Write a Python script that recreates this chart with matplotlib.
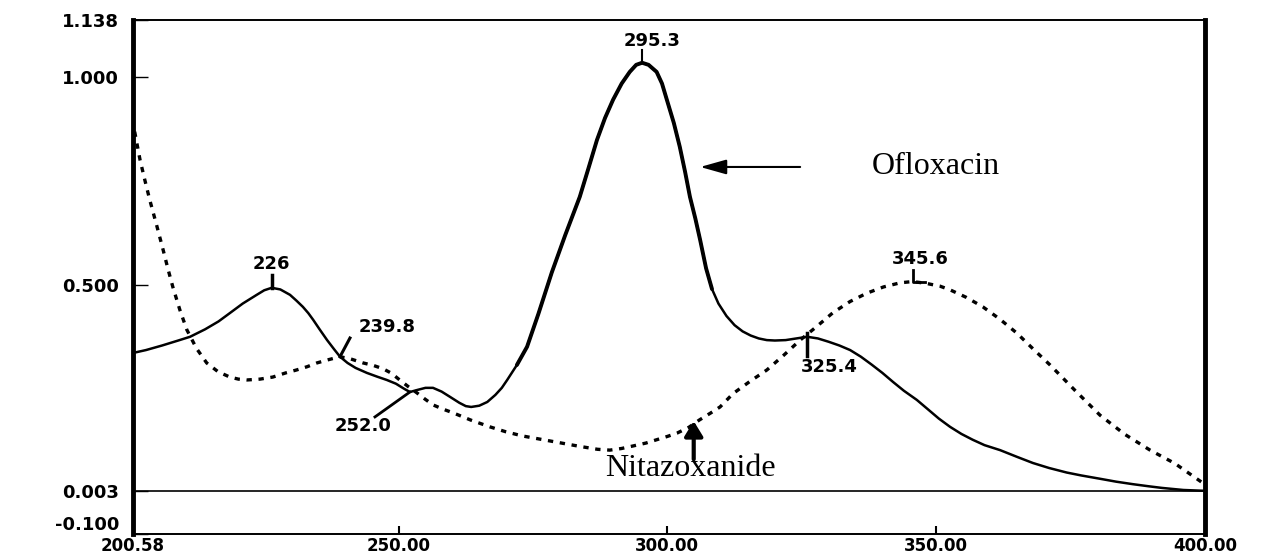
import matplotlib
matplotlib.use("Agg")
import matplotlib.pyplot as plt
import matplotlib.transforms as mtransforms
import numpy as np

# ---- data ----
oflox_x = [200.58, 203.0, 206.0, 209.0, 211.2, 214.0, 216.5, 218.6, 221.0, 223.6, 225.0,
           226.4, 228.0, 229.8, 231.0, 232.2, 233.2, 234.1, 235.3, 236.7, 238.0, 239.1,
           240.5, 242.0, 244.1, 246.0, 247.8, 249.5, 251.0, 252.1, 253.5, 255.0, 256.4,
           258.0, 259.6, 261.3, 262.5, 263.5, 265.0, 266.5, 268.0, 269.2, 270.2, 272.0,
           273.9, 276.0, 278.5, 281.0, 283.7, 285.3, 286.9, 288.4, 289.9, 291.5, 293.0,
           294.2, 295.3, 296.5, 298.0, 299.0, 299.9, 301.2, 302.3, 303.3, 304.2, 305.2,
           306.1, 307.2, 308.3, 309.5, 311.0, 312.5, 314.0, 315.5, 317.0, 318.5, 320.0,
           322.0, 324.0, 326.0, 328.0, 330.0, 332.0, 334.0, 336.0, 338.0, 340.0, 342.0,
           344.0, 346.4, 348.5, 350.5, 352.6, 354.7, 356.8, 359.0, 361.9, 365.0, 368.0,
           371.0, 374.3, 377.0, 380.5, 383.5, 386.6, 389.5, 392.0, 396.0, 400.0]
oflox_y = [0.336, 0.343, 0.354, 0.366, 0.375, 0.393, 0.412, 0.432, 0.455, 0.476, 0.487,
           0.493, 0.489, 0.476, 0.462, 0.447, 0.432, 0.416, 0.393, 0.367, 0.345, 0.327,
           0.312, 0.300, 0.288, 0.279, 0.271, 0.262, 0.250, 0.242, 0.247, 0.252, 0.252,
           0.243, 0.230, 0.216, 0.208, 0.206, 0.209, 0.218, 0.235, 0.252, 0.271, 0.307,
           0.351, 0.430, 0.530, 0.620, 0.712, 0.780, 0.849, 0.902, 0.946, 0.985, 1.013,
           1.030, 1.035, 1.030, 1.013, 0.985, 0.946, 0.890, 0.833, 0.772, 0.712, 0.660,
           0.608, 0.540, 0.490, 0.455, 0.425, 0.403, 0.388, 0.378, 0.371, 0.367, 0.366,
           0.367, 0.371, 0.375, 0.371, 0.363, 0.354, 0.343, 0.327, 0.308, 0.288, 0.266,
           0.245, 0.223, 0.200, 0.178, 0.158, 0.141, 0.127, 0.114, 0.102, 0.086, 0.071,
           0.059, 0.048, 0.041, 0.033, 0.026, 0.020, 0.015, 0.011, 0.006, 0.004]

nitaz_x = [200.9, 201.9, 202.8, 203.7, 205.0, 206.2, 207.1, 208.0, 209.3, 210.6, 212.4,
           214.3, 216.4, 218.6, 220.2, 221.8, 224.2, 226.6, 229.0, 231.0, 233.0, 234.8,
           237.0, 239.1, 241.0, 243.4, 245.3, 247.1, 248.7, 250.2, 251.8, 253.4, 254.9,
           256.4, 258.2, 260.1, 263.5, 267.0, 270.0, 273.1, 278.2, 283.7, 287.0, 289.3,
           291.5, 293.6, 296.0, 298.0, 300.0, 301.8, 304.0, 306.0, 308.0, 309.8, 312.2,
           315.3, 318.5, 321.6, 324.7, 327.8, 330.8, 334.0, 337.1, 340.2, 343.3, 345.6,
           348.0, 350.7, 352.6, 355.6, 358.7, 361.8, 365.0, 368.1, 371.2, 375.9, 380.5,
           385.1, 389.8, 394.4, 399.6]
nitaz_y = [0.869, 0.801, 0.752, 0.705, 0.643, 0.584, 0.538, 0.495, 0.440, 0.392, 0.347,
           0.312, 0.291, 0.278, 0.273, 0.271, 0.273, 0.278, 0.288, 0.295, 0.303, 0.312,
           0.320, 0.327, 0.322, 0.312, 0.306, 0.298, 0.287, 0.271, 0.255, 0.240, 0.225,
           0.211, 0.201, 0.192, 0.174, 0.158, 0.146, 0.136, 0.124, 0.111, 0.104, 0.102,
           0.106, 0.112, 0.119, 0.127, 0.135, 0.143, 0.157, 0.175, 0.191, 0.206, 0.238,
           0.267, 0.295, 0.330, 0.367, 0.400, 0.433, 0.460, 0.480, 0.495, 0.505, 0.508,
           0.504, 0.497, 0.488, 0.470, 0.447, 0.418, 0.384, 0.345, 0.307, 0.245, 0.186,
           0.140, 0.102, 0.070, 0.023]

xtick_vals = [200.58, 250.0, 300.0, 350.0, 400.0]
xtick_labels = ["200.58", "250.00", "300.00", "350.00", "400.00"]
ytick_vals = [-0.1, 0.003, 0.5, 1.0, 1.138]
ytick_labels = ["-0.100", "0.003", "0.500", "1.000", "1.138"]
baseline = 0.003

# ---- figure ----
fig = plt.figure(figsize=(12.65, 5.57), dpi=100)
fig.patch.set_facecolor("white")
ax = fig.add_axes([0.1051, 0.0413, 0.8474, 0.9228])
ax.set_xlim(200.58, 400.0)
ax.set_ylim(-0.1, 1.138)

ax.axhline(baseline, color="black", lw=1.2, zorder=1)

ox = np.array(oflox_x)
oy = np.array(oflox_y)
ax.plot(ox, oy, color="black", lw=1.8, solid_capstyle="round",
        solid_joinstyle="round", zorder=3)
m = (ox >= 271) & (ox <= 309)
ax.plot(ox[m], oy[m], color="black", lw=2.8, solid_capstyle="round",
        solid_joinstyle="round", zorder=3)

ax.plot(nitaz_x, nitaz_y, color="black", lw=2.4, linestyle=(0, (1.6, 2.0)), zorder=2)

# ---- peak annotations ----
num_font = dict(family="DejaVu Sans", fontsize=13, fontweight="bold", color="black")
ax.plot([226.4, 226.4], [0.493, 0.524], color="black", lw=2.5)
ax.text(226.4, 0.550, "226", ha="center", va="center", **num_font)

ax.plot([239.1, 240.95], [0.327, 0.372], color="black", lw=2.2)
ax.text(247.8, 0.398, "239.8", ha="center", va="center", **num_font)

ax.plot([252.1, 245.6], [0.242, 0.182], color="black", lw=2.0)
ax.text(243.4, 0.160, "252.0", ha="center", va="center", **num_font)

ax.plot([295.3, 295.3], [1.035, 1.066], color="black", lw=1.5)
ax.text(297.1, 1.088, "295.3", ha="center", va="center", **num_font)

ax.plot([345.7, 345.7, 347.9], [0.536, 0.507, 0.507], color="black", lw=2.0)
ax.text(347.0, 0.562, "345.6", ha="center", va="center", **num_font)

ax.plot([325.96, 325.96], [0.384, 0.329], color="black", lw=2.5)
ax.text(330.2, 0.303, "325.4", ha="center", va="center", **num_font)

# ---- compound labels ----
ax.annotate("", xy=(306.1, 0.784), xytext=(324.7, 0.784),
            arrowprops=dict(arrowstyle="-|>,head_length=1.6,head_width=0.45",
                            color="black", lw=1.5, shrinkA=0, shrinkB=0))
ax.text(349.9, 0.784, "Ofloxacin", ha="center", va="center",
        family="Liberation Serif", fontsize=23, color="black")

ax.annotate("", xy=(304.9, 0.172), xytext=(304.9, 0.080),
            arrowprops=dict(arrowstyle="-|>,head_length=0.9,head_width=0.55",
                            color="black", lw=3.0, shrinkA=0, shrinkB=0))
ax.text(304.2, 0.057, "Nitazoxanide", ha="center", va="center",
        family="Liberation Serif", fontsize=23, color="black")

# ---- axes styling ----
ax.set_xticks(xtick_vals)
ax.set_xticklabels(xtick_labels)
ax.set_yticks(ytick_vals)
ax.set_yticklabels(ytick_labels)
for lab in ax.get_xticklabels():
    lab.set_fontfamily("DejaVu Sans")
    lab.set_fontweight("bold")
    lab.set_fontsize(12)
for lab in ax.get_yticklabels():
    lab.set_fontfamily("DejaVu Sans")
    lab.set_fontweight("bold")
    lab.set_fontsize(13)
ax.tick_params(axis="x", direction="in", length=6, width=1.5, pad=2.5)
ax.tick_params(axis="y", direction="in", length=11, width=1.0, pad=10)

# lift the lowest y label slightly so it clears the first x label
low_lab = ax.yaxis.get_major_ticks()[0].label1
low_lab.set_transform(low_lab.get_transform() +
                      mtransforms.ScaledTranslation(0, 8 / 72, fig.dpi_scale_trans))

ax.spines["left"].set_linewidth(3.5)
ax.spines["right"].set_linewidth(3.5)
ax.spines["top"].set_linewidth(1.4)
ax.spines["bottom"].set_linewidth(1.4)

fig.savefig("out.png", dpi=100, facecolor="white")
